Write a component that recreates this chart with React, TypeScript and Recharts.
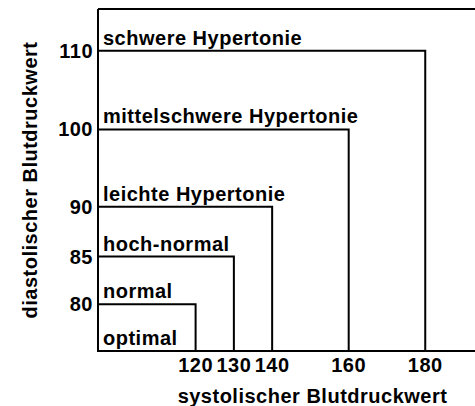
import { ComposedChart, XAxis, YAxis, ReferenceArea, ReferenceLine, Label } from "recharts";

const categories = [
    "optimal",
    "normal",
    "hoch-normal",
    "leichte Hypertonie",
    "mittelschwere Hypertonie",
    "schwere Hypertonie",
];
// upper limits of each class (the last class has none)
const systolicLimits = [120, 130, 140, 160, 180];
const diastolicLimits = [80, 85, 90, 100, 110];

const systolicTicks = [120, 130, 140, 160, 180];
const diastolicTicks = [80, 85, 90, 100, 110];

const X_DOMAIN = [94.5, 193];
const Y_DOMAIN = [75, 115];

// the diastolic axis of the original is not evenly spaced:
// share of the axis height reached at each break value
const Y_BREAKS = [75, 80, 85, 90, 100, 110, 115];
const Y_BREAK_SHARE = [0, 0.137, 0.276, 0.422, 0.648, 0.878, 1];

const FONT = "'Liberation Sans', Arial, sans-serif";
const BLACK = "#000000";

function stretchedScale(breaks: number[], share: number[], dom?: number[], rng?: number[]) {
    let d = dom ? dom.slice() : [breaks[0], breaks[breaks.length - 1]];
    let r = rng ? rng.slice() : [0, 1];
    const toShare = (v: number) => {
        let i = 0;
        while (i < breaks.length - 2 && v > breaks[i + 1]) i++;
        const t = (v - breaks[i]) / (breaks[i + 1] - breaks[i]);
        return share[i] + t * (share[i + 1] - share[i]);
    };
    const s: any = (v: number) => r[0] + toShare(Number(v)) * (r[1] - r[0]);
    s.domain = (nd?: number[]) => {
        if (nd === undefined) return d.slice();
        d = nd.slice();
        return s;
    };
    s.range = (nr?: number[]) => {
        if (nr === undefined) return r.slice();
        r = nr.slice();
        return s;
    };
    s.copy = () => stretchedScale(breaks, share, d, r);
    s.ticks = () => breaks.slice();
    s.invert = (px: number) => {
        const f = (px - r[0]) / (r[1] - r[0]);
        let i = 0;
        while (i < share.length - 2 && f > share[i + 1]) i++;
        const t = (f - share[i]) / (share[i + 1] - share[i]);
        return breaks[i] + t * (breaks[i + 1] - breaks[i]);
    };
    return s;
}

const yScale = stretchedScale(Y_BREAKS, Y_BREAK_SHARE);

const textStyle = {
    fill: BLACK,
    fontSize: 20,
    fontWeight: 700,
    fontFamily: FONT,
    letterSpacing: 0.5,
};

const labelAbove = (text: string) => (props: any) => {
    const { x, y } = props.viewBox;
    return (
        <text x={x + 5} y={y - 6} {...textStyle}>
            {text}
        </text>
    );
};

const labelInsideBottom = (text: string) => (props: any) => {
    const { x, y, height } = props.viewBox;
    return (
        <text x={x + 5} y={y + height - 6} {...textStyle}>
            {text}
        </text>
    );
};

export default function App() {
    // draw the biggest box first
    const boxes = systolicLimits.map((sys, i) => ({ sys, dia: diastolicLimits[i], i })).reverse();

    return (
        <div style={{ position: "absolute", left: 0, top: 0, background: "#fff" }}>
            <ComposedChart
                width={475}
                height={406}
                data={[]}
                margin={{ top: 9, right: 0, bottom: 0, left: 0 }}
            >
                <XAxis
                    type="number"
                    dataKey="sys"
                    domain={X_DOMAIN}
                    allowDataOverflow
                    ticks={systolicTicks}
                    interval={0}
                    height={55}
                    tickLine={false}
                    tickSize={0}
                    tickMargin={7}
                    axisLine={{ stroke: BLACK, strokeWidth: 2 }}
                    tick={textStyle}
                    label={{
                        value: "systolischer Blutdruckwert",
                        position: "insideBottom",
                        offset: 3,
                        dx: 26,
                        style: textStyle,
                    }}
                />
                <YAxis
                    type="number"
                    dataKey="dia"
                    domain={Y_DOMAIN}
                    allowDataOverflow
                    scale={yScale}
                    ticks={diastolicTicks}
                    interval={0}
                    width={98}
                    tickLine={false}
                    tickSize={0}
                    tickMargin={5}
                    axisLine={{ stroke: BLACK, strokeWidth: 2 }}
                    tick={textStyle}
                    label={{
                        value: "diastolischer Blutdruckwert",
                        angle: -90,
                        position: "insideLeft",
                        offset: 30,
                        style: { ...textStyle, textAnchor: "middle" },
                    }}
                />
                <ReferenceLine y={Y_DOMAIN[1]} stroke={BLACK} strokeWidth={2} />
                {boxes.map((b) => (
                    <ReferenceArea
                        key={categories[b.i]}
                        x1={X_DOMAIN[0]}
                        x2={b.sys}
                        y1={Y_DOMAIN[0]}
                        y2={b.dia}
                        fill="#fff"
                        fillOpacity={0}
                        stroke={BLACK}
                        strokeWidth={2}
                        strokeOpacity={1}
                        ifOverflow="extendDomain"
                    >
                        <Label content={labelAbove(categories[b.i + 1])} />
                        {b.i === 0 && <Label content={labelInsideBottom(categories[0])} />}
                    </ReferenceArea>
                ))}
            </ComposedChart>
        </div>
    );
}
